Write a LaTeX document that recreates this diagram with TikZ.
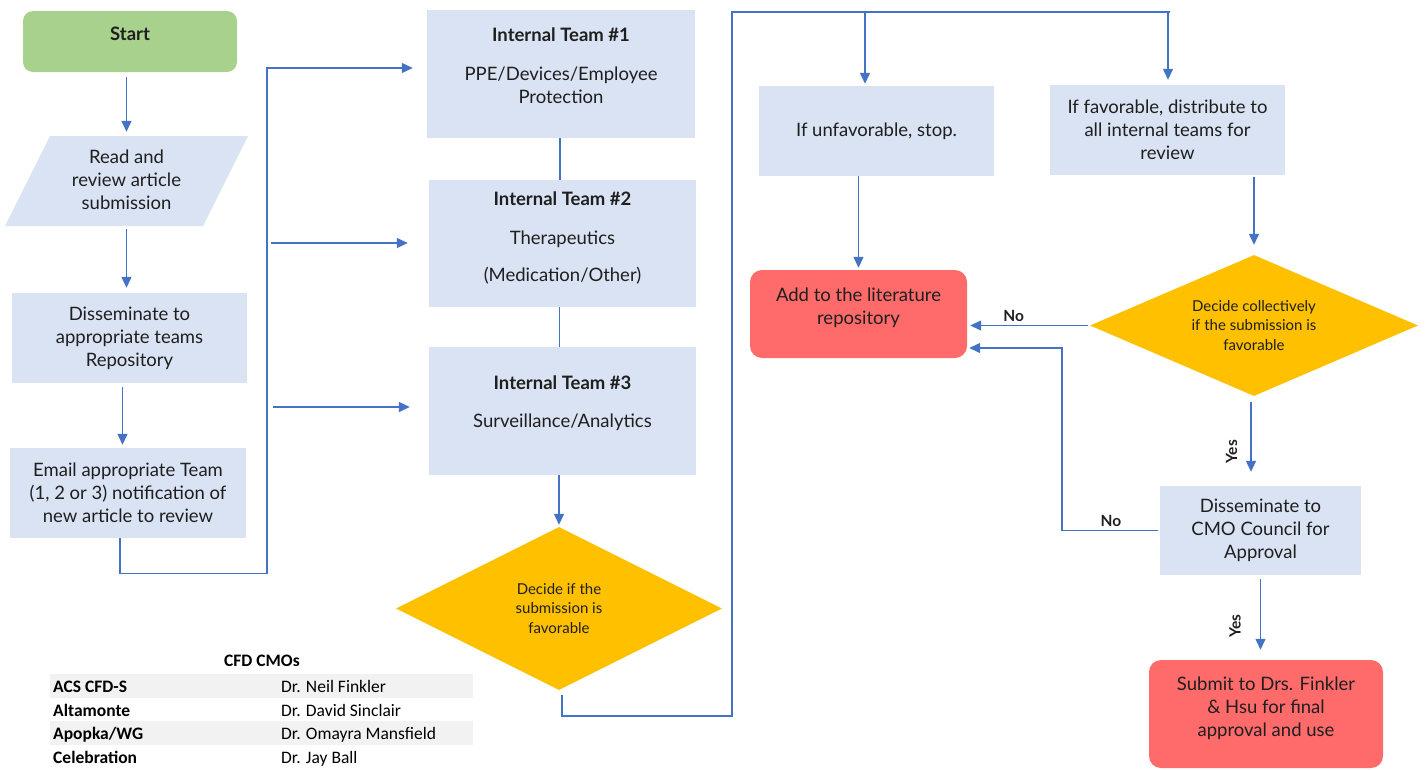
\documentclass[tikz,border=0pt]{standalone}
\usepackage{fontspec}
\setmainfont{Lato}
\newfontfamily\tabfont{Carlito}
\usetikzlibrary{arrows.meta,shapes.geometric}
\definecolor{boxblue}{HTML}{DAE3F3}
\definecolor{lineblue}{HTML}{4472C4}
\definecolor{gold}{HTML}{FFC000}
\definecolor{redbox}{HTML}{FF6B6B}
\definecolor{greenbox}{HTML}{A9D18E}
\definecolor{txtc}{HTML}{1F1F1F}
\definecolor{rowgray}{HTML}{F2F2F2}
\tikzset{
  bluebox/.style={fill=boxblue, draw=none, inner sep=0pt, text=txtc, align=center, font=\fontsize{18.5}{23}\selectfont},
  rbox/.style={fill=redbox, draw=none, rounded corners=12pt, inner sep=0pt},
  txt/.style={text=txtc, align=center, font=\fontsize{18.5}{23}\selectfont, inner sep=0pt},
  btxt/.style={text=txtc, align=center, font=\fontsize{18.5}{23}\selectfont\bfseries, inner sep=0pt},
  dia/.style={diamond, fill=gold, draw=none, inner sep=0pt, aspect=2, text=txtc, align=center, font=\fontsize{15}{19.5}\selectfont},
  conn/.style={draw=lineblue, line width=1.3pt},
  arr/.style={conn, -{Triangle[width=10pt,length=11pt]}},
  lab/.style={font=\fontsize{15.5}{17}\selectfont\bfseries, text=txtc, inner sep=3pt},
  tab/.style={font=\tabfont\fontsize{17.5}{20}\selectfont, text=black, inner sep=0pt, anchor=west, text height=12pt, text depth=4pt},
  tabb/.style={tab, font=\tabfont\fontsize{17.5}{20}\selectfont\bfseries},
}
\begin{document}
\begin{tikzpicture}[x=1pt,y=-1pt]
\useasboundingbox (0,0) rectangle (1425,769);

% ---- left column ----
\node[fill=greenbox, rounded corners=10pt, minimum width=214pt, minimum height=61pt, inner sep=0pt] (start) at (130,41.5) {};
\node[btxt] at (130,34) {Start};

\fill[boxblue] (50,136) -- (248,136) -- (203,226) -- (5,226) -- cycle;
\node[txt, minimum height=90pt] (read) at (126.5,180) {Read and\\review article\\submission};

\node[bluebox, minimum width=235pt, minimum height=90pt] (dis) at (129.5,338) {Disseminate to\\appropriate teams\\Repository};
\node[bluebox, minimum width=236pt, minimum height=90pt] (email) at (128,493) {Email appropriate Team\\(1, 2 or 3) notification of\\new article to review};

% ---- teams ----
\node[bluebox, minimum width=268pt, minimum height=128pt] (t1) at (561,74) {};
\node[btxt] at (561,35) {Internal Team \#1};
\node[txt] at (561,85) {PPE/Devices/Employee\\Protection};

\node[bluebox, minimum width=267pt, minimum height=127pt] (t2) at (562.5,243.5) {};
\node[btxt] at (562.5,199) {Internal Team \#2};
\node[txt] at (562.5,239) {Therapeutics};
\node[txt] at (562.5,276) {(Medication/Other)};

\node[bluebox, minimum width=267pt, minimum height=128pt] (t3) at (562.5,411) {};
\node[btxt] at (562.5,383) {Internal Team \#3};
\node[txt] at (562.5,422) {Surveillance/Analytics};

\node[dia, minimum width=326pt, minimum height=163pt] (d1) at (559,608.5) {Decide if the\\submission is\\favorable};

% ---- right part ----
\node[bluebox, minimum width=235pt, minimum height=90pt] (unf) at (876.5,131) {If unfavorable, stop.};
\node[bluebox, minimum width=235pt, minimum height=90pt] (fav) at (1167.5,130) {If favorable, distribute to\\all internal teams for\\review};

\node[rbox, minimum width=217pt, minimum height=88pt] (lit) at (858.5,314) {};
\node[txt] at (858.5,307.5) {Add to the literature\\repository};

\node[dia, minimum width=328pt, minimum height=141pt] (d2) at (1254,325.5) {Decide collectively\\if the submission is\\favorable};

\node[bluebox, minimum width=201pt, minimum height=89pt] (cmo) at (1260.5,530.5) {Disseminate to\\CMO Council for\\Approval};

\node[rbox, minimum width=234pt, minimum height=108pt] (sub) at (1266,714) {};
\node[txt] at (1266,708.5) {Submit to Drs. Finkler\\\& Hsu for final\\approval and use};

% ---- connectors: left ----
\draw[arr, shorten <=5pt, shorten >=3pt] (start.south -| read.north) -- (read.north);
\draw[arr, shorten <=4pt, shorten >=5pt] (read.south) -- (read.south |- dis.north);
\draw[arr, shorten <=4pt, shorten >=3pt] ([xshift=-7pt]dis.south) -- ([xshift=-7pt]dis.south |- email.north);

\coordinate (b2) at (271,243);
\coordinate (b3) at (273,407);
\draw[arr, shorten >=14pt] ([xshift=-8pt]email.south) -- ++(0,35) -| (267,68) -- ([yshift=6pt]t1.west);
\draw[arr, shorten >=21pt] (b2) -- (b2 -| t2.west);
\draw[arr, shorten >=19pt] (b3) -- (b3 -| t3.west);

\draw[conn] ([xshift=-1pt]t1.south) -- ([xshift=-1pt]t1.south |- t2.north);
\draw[conn] ([xshift=-3pt]t2.south) -- ([xshift=-3pt]t2.south |- t3.north);
\draw[arr, shorten >=2pt] (t3.south -| d1.north) -- (d1.north);

% ---- connectors: to the right ----
\coordinate (top) at (1170,12);
\coordinate (tu) at (865,12);
\coordinate (tf) at (1168,12);
\draw[conn] ([xshift=3pt,yshift=-5pt]d1.south) |- (732,716) -- (732,12) -- (top);
\draw[arr, shorten >=2pt] (tu) -- (tu |- unf.north);
\draw[arr, shorten >=5pt] (tf) -- (tf |- fav.north);

\draw[arr, shorten >=2pt] (lit.north |- unf.south) -- (lit.north);
\draw[arr, shorten <=2pt, shorten >=10pt] (d2.north |- fav.south) -- (d2.north);

\draw[arr, shorten <=2pt, shorten >=3pt] (d2.west) -- (d2.west -| lit.east) node[lab, pos=0.62, above] {No};
\draw[arr, shorten <=6pt, shorten >=14pt] ([xshift=-3pt]d2.south) -- ([xshift=-3pt]d2.south |- cmo.north) node[lab, pos=0.62, rotate=90, anchor=south, inner sep=13pt] {Yes};
\draw[arr, shorten <=2pt, shorten >=2pt] (cmo.west) -- (1062,530.5) node[lab, midway, above] {No} -- (1062,348) -- ([yshift=-34pt]lit.east);
\draw[arr, shorten <=4pt, shorten >=10pt] (cmo.south) -- (cmo.south |- sub.north) node[lab, pos=0.6, rotate=90, anchor=south, inner sep=19pt] {Yes};

% ---- table ----
\fill[rowgray] (50,674) rectangle (473,698);
\fill[rowgray] (50,721) rectangle (473,745);
\node[font=\tabfont\fontsize{17.5}{20}\selectfont\bfseries, inner sep=0pt] (tt) at (262,661) {CFD CMOs};
\node[tabb] (r1a) at (53,688) {ACS CFD-S};
\node[tab] (r1b) at (281,688) {Dr. Neil Finkler};
\node[tabb] (r2a) at (53,712) {Altamonte};
\node[tab] (r2b) at (281,712) {Dr. David Sinclair};
\node[tabb] (r3a) at (53,735) {Apopka/WG};
\node[tab] (r3b) at (281,735) {Dr. Omayra Mansfield};
\node[tabb] (r4a) at (53,759) {Celebration};
\node[tab] (r4b) at (281,759) {Dr. Jay Ball};
\end{tikzpicture}
\end{document}
